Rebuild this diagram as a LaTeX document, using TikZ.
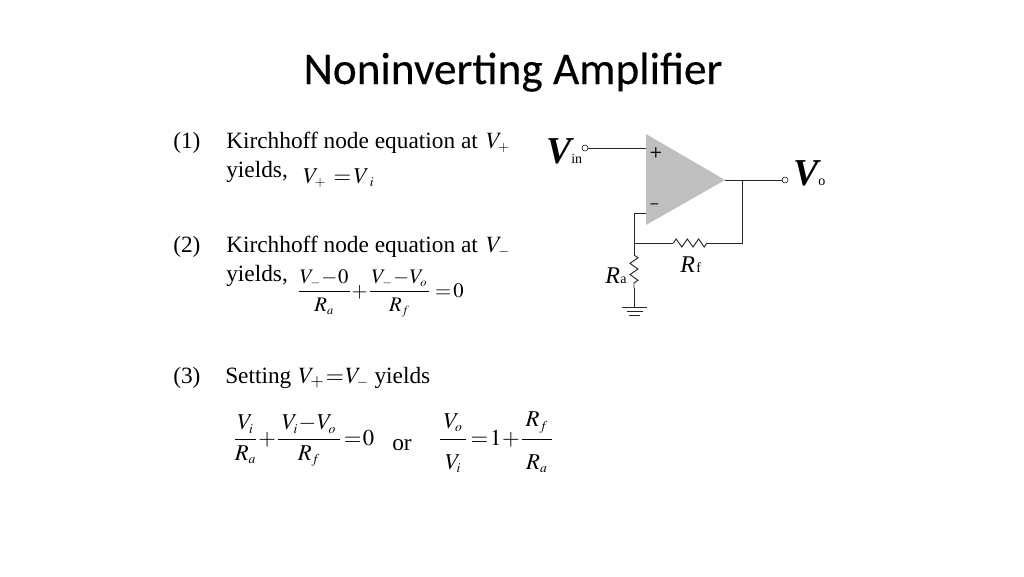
\documentclass[tikz,border=0pt]{standalone}
\usepackage{amsmath}
\usepackage{mathptmx}
\usepackage[no-math]{fontspec}
\setmainfont{Liberation Serif}
\newfontfamily\titlefont[FakeBold=0.2]{Carlito}
\usetikzlibrary{positioning,decorations.pathmorphing}
\newcommand{\subs}[1]{_{\scriptscriptstyle #1}}

\begin{document}
\begin{tikzpicture}[
                x=0.75pt,y=-0.75pt,
                txt/.style={anchor=base west,inner sep=0pt,font=\fontsize{17.5}{20}\selectfont},
                eqn/.style={anchor=base west,inner sep=0pt,font=\fontsize{17}{20}\selectfont},
                eqnsmall/.style={anchor=base west,inner sep=0pt,font=\fontsize{15.5}{18}\selectfont},
                terminal/.style={circle,draw,fill=white,inner sep=0pt,minimum size=4.5pt},
                wire/.style={line width=0.7pt,black!85},
                res/.style={wire,decorate,decoration={zigzag,segment length=8.4pt,amplitude=3pt}},
                sign/.style={inner sep=0pt,font=\sffamily\bfseries\fontsize{11}{11}\selectfont}
            ]
                \useasboundingbox (0,0) rectangle (1024,576);
                \node (title) [inner sep=0pt,anchor=base,font=\titlefont\fontsize{34}{38}\selectfont] at (513,84) {Noninverting Amplifier};
                % equations
                \node (n1) [txt] at (173,148) {(1)};
                \node (l1) [txt] at (226,148) {Kirchhoff node equation at\hspace{2pt} $V\subs{+}$};
                \node (y1) [txt] at (226,177) {yields,};
                \node (e1) [eqn] at (303,183) {$V\subs{+}\mkern2mu=\!V\subs{\mkern6mu i}$};
                \node (n2) [txt] at (173,252) {(2)};
                \node (l2) [txt] at (226,252) {Kirchhoff node equation at\hspace{2pt} $V\subs{-}$};
                \node (y2) [txt] at (226,281) {yields,};
                \node (e2) [eqnsmall] at (297,297) {$\dfrac{\mkern1mu V\subs{-}\!-\!0\mkern1mu}{R\subs{a}}\mkern-2mu+\mkern-2mu\dfrac{\mkern1.5mu V\subs{-}\!-\!V\subs{o}\mkern1.5mu}{R\subs{f}}=\!0$};
                \node (n3) [txt] at (173,383) {(3)};
                \node (l3) [txt] at (225,383) {Setting \hspace{1pt}$V_{+}\mkern1mu{=}\mkern1mu V\subs{-}$ yields};
                \node (e3) [eqn] at (233,445) {$\dfrac{\mkern2mu V\subs{i}\mkern2mu}{R\subs{a}}\!+\!\dfrac{\mkern3mu V\subs{i}\!-\!V\subs{o}\mkern3mu}{R\subs{f}}\!=\mkern-3mu 0$};
                \node (or) [txt] at (392,450) {or};
                \node (e4) [eqn] at (438,445) {$\dfrac{\mkern3mu V\subs{o}\mkern3mu\rule[-6pt]{0pt}{1pt}}{\rule{0pt}{20pt}V\subs{i}}\!=\mkern-2.5mu 1\!+\!\dfrac{\mkern3mu R\subs{f}\mkern3mu\rule[-7pt]{0pt}{1pt}}{\rule{0pt}{20pt}R\subs{a}}$};
                % op amp
                \fill[black!25] (646,134) coordinate (tl) -- (725,180) coordinate (out) -- (646,225) coordinate (bl) -- cycle;
                \node (plus) [sign] at (656,153) {+};
                \node (minus) [sign] at (654.5,206) {--};
                \node (vin) [terminal] at (585,148) {};
                \node (vo) [terminal] at (785,180) {};
                \coordinate (ip) at (646,148);
                \coordinate (im) at (646,213);
                \coordinate (fb) at (742,180);
                \coordinate (fc) at (742,243);
                \coordinate (rf1) at (707,243);
                \coordinate (rf2) at (673,243);
                \coordinate (j) at (634,243);
                \coordinate (jm) at (634,213);
                \coordinate (ra1) at (634,255);
                \coordinate (ra2) at (634,288);
                \coordinate (g) at (634,307);
                \draw[wire] (vin) -- (ip);
                \draw[wire] (out) -- (vo);
                \draw[wire] (fb) -- (fc) -- (rf1);
                \draw[res] (rf1) -- (rf2);
                \draw[wire] (rf2) -- (j) -- (jm) -- (im);
                \draw[wire] (j) -- (ra1);
                \draw[res] (ra1) -- (ra2);
                \draw[wire] (ra2) -- (g);
                \draw[wire] (622,307) -- (647,307);
                \draw[wire] (627,311) -- (643,311);
                \draw[wire] (629,315) -- (640,315);
                % labels
                \node (lvin) [inner sep=0pt,anchor=base west] at (546,163) {\fontsize{28.5}{30}\selectfont\bfseries\itshape V};
                \node (lin) [inner sep=0pt,anchor=base west] at (571,163) {\fontsize{10.5}{12}\selectfont in};
                \node (lvo) [inner sep=0pt,anchor=base west] at (793,185) {\fontsize{28.5}{30}\selectfont\bfseries\itshape V};
                \node (lo) [inner sep=0pt,anchor=base west] at (818,185) {\fontsize{10.5}{12}\selectfont o};
                \node (lrf) [inner sep=0pt,anchor=base west] at (680,272) {\fontsize{18}{20}\selectfont\itshape R};
                \node (lf) [inner sep=0pt,anchor=base west] at (696,272) {\fontsize{10.5}{12}\selectfont f};
                \node (lra) [inner sep=0pt,anchor=base west] at (605,283) {\fontsize{18}{20}\selectfont\itshape R};
                \node (la) [inner sep=0pt,anchor=base west] at (620,283) {\fontsize{10.5}{12}\selectfont a};
            \end{tikzpicture}
\end{document}
